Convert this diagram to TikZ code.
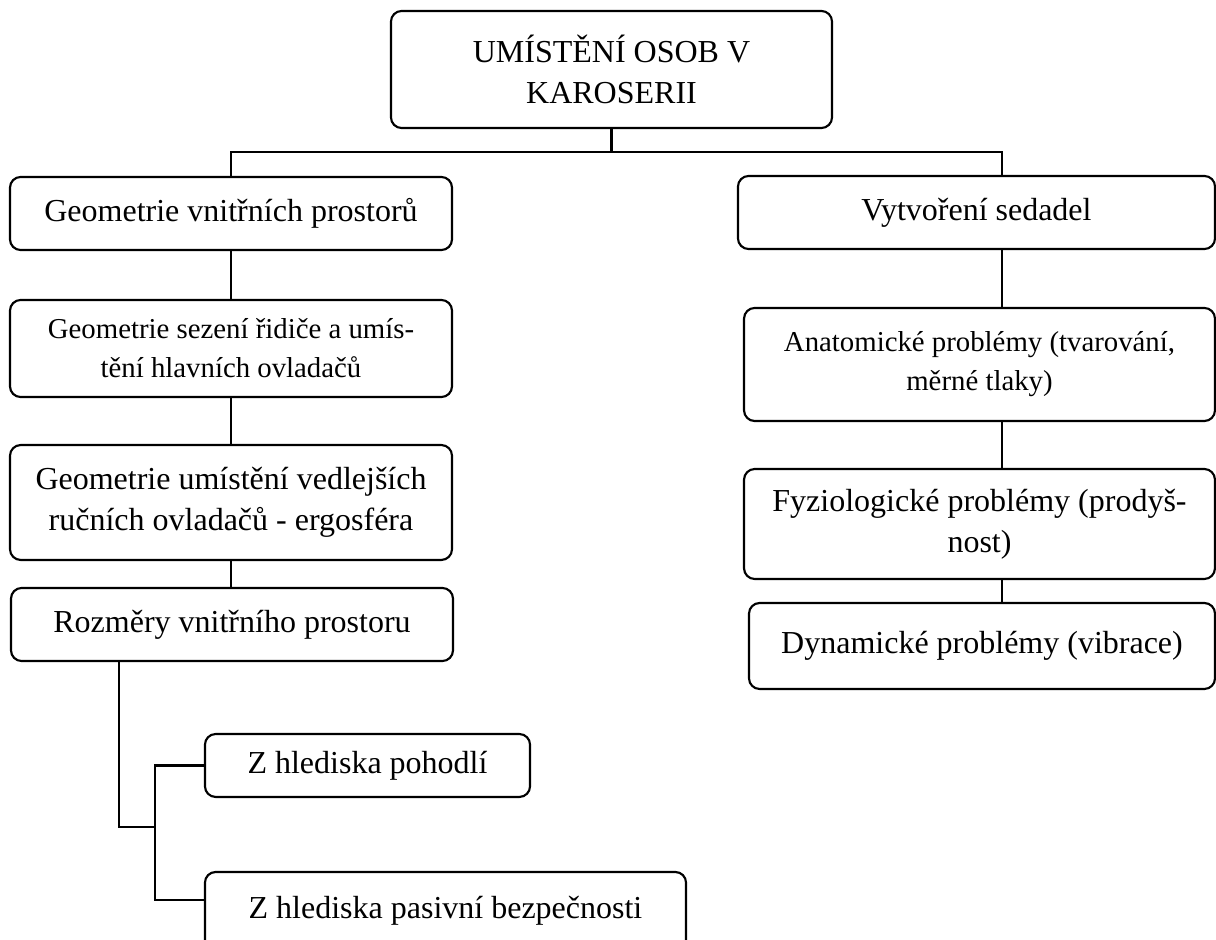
\documentclass[tikz,border=0pt]{standalone}
\usepackage{fontspec}
\setmainfont{Liberation Serif}
\begin{document}
\begin{tikzpicture}[x=0.375pt,y=-0.375pt,
        box/.style={draw, rounded corners=4pt, line width=0.8pt, align=center, inner sep=0pt,
            font=\fontsize{12}{15.5}\selectfont},
        small/.style={font=\fontsize{10.8}{14.6}\selectfont},
        link/.style={line width=0.8pt}]
        \useasboundingbox (0,0) rectangle (1216,940);

        \node[box, minimum width=165.4pt, minimum height=43.9pt] (top) at (611.5,69.5) {UMÍSTĚNÍ OSOB V\\KAROSERII};

        % left branch
        \node[box, minimum width=165.75pt, minimum height=27.4pt] (geo) at (231,213.5) {Geometrie vnitřních prostorů};
        \node[box, small, minimum width=165.75pt, minimum height=36.4pt] (sezeni) at (231,348.5) {Geometrie sezení řidiče a umís-\\tění hlavních ovladačů};
        \node[box, minimum width=165.75pt, minimum height=43.1pt] (ergo) at (231,502.5) {Geometrie umístění vedlejších\\ručních ovladačů - ergosféra};
        \node[box, minimum width=165.75pt, minimum height=27.4pt] (rozmery) at (232,624.5) {Rozměry vnitřního prostoru};
        \node[box, minimum width=121.9pt, minimum height=23.6pt] (pohodli) at (367.5,765.5) {Z hlediska pohodlí};
        \node[box, minimum width=180.4pt, minimum height=29.25pt] (bezpec) at (445.5,911) {\raisebox{3pt}{Z hlediska pasivní bezpečnosti}};

        % right branch
        \node[box, minimum width=178.9pt, minimum height=27.4pt] (sedadla) at (976.5,212.5) {Vytvoření sedadel};
        \node[box, small, minimum width=176.6pt, minimum height=42.4pt] (anat) at (979.5,364.5) {Anatomické problémy (tvarování,\\měrné tlaky)};
        \node[box, minimum width=176.6pt, minimum height=41.25pt] (fyzio) at (979.5,524) {Fyziologické problémy (prodyš-\\nost)};
        \node[box, minimum width=174.75pt, minimum height=32.25pt] (dyn) at (982,646) {\raisebox{3pt}{Dynamické problémy (vibrace)}};

        \coordinate (rjoin) at (1002,152);
        \coordinate (zstem) at (119,827);
        \coordinate (zfork) at (155,827);

        \draw[link] (top.south) -- (top.south |- rjoin);
        \draw[link] (geo.north) |- (rjoin) -- (rjoin |- sedadla.north);
        \draw[link] (geo.south) -- (sezeni.north);
        \draw[link] (sezeni.south) -- (ergo.north);
        \draw[link] (ergo.south) -- (ergo.south |- rozmery.north);
        \draw[link] (rjoin |- sedadla.south) -- (rjoin |- anat.north);
        \draw[link] (rjoin |- anat.south) -- (rjoin |- fyzio.north);
        \draw[link] (rjoin |- fyzio.south) -- (rjoin |- dyn.north);
        \draw[link] (zstem |- rozmery.south) -- (zstem) -- (zfork);
        \draw[link] (pohodli.west) -| (zfork) |- ([yshift=4.1pt]bezpec.west);
\end{tikzpicture}
\end{document}
